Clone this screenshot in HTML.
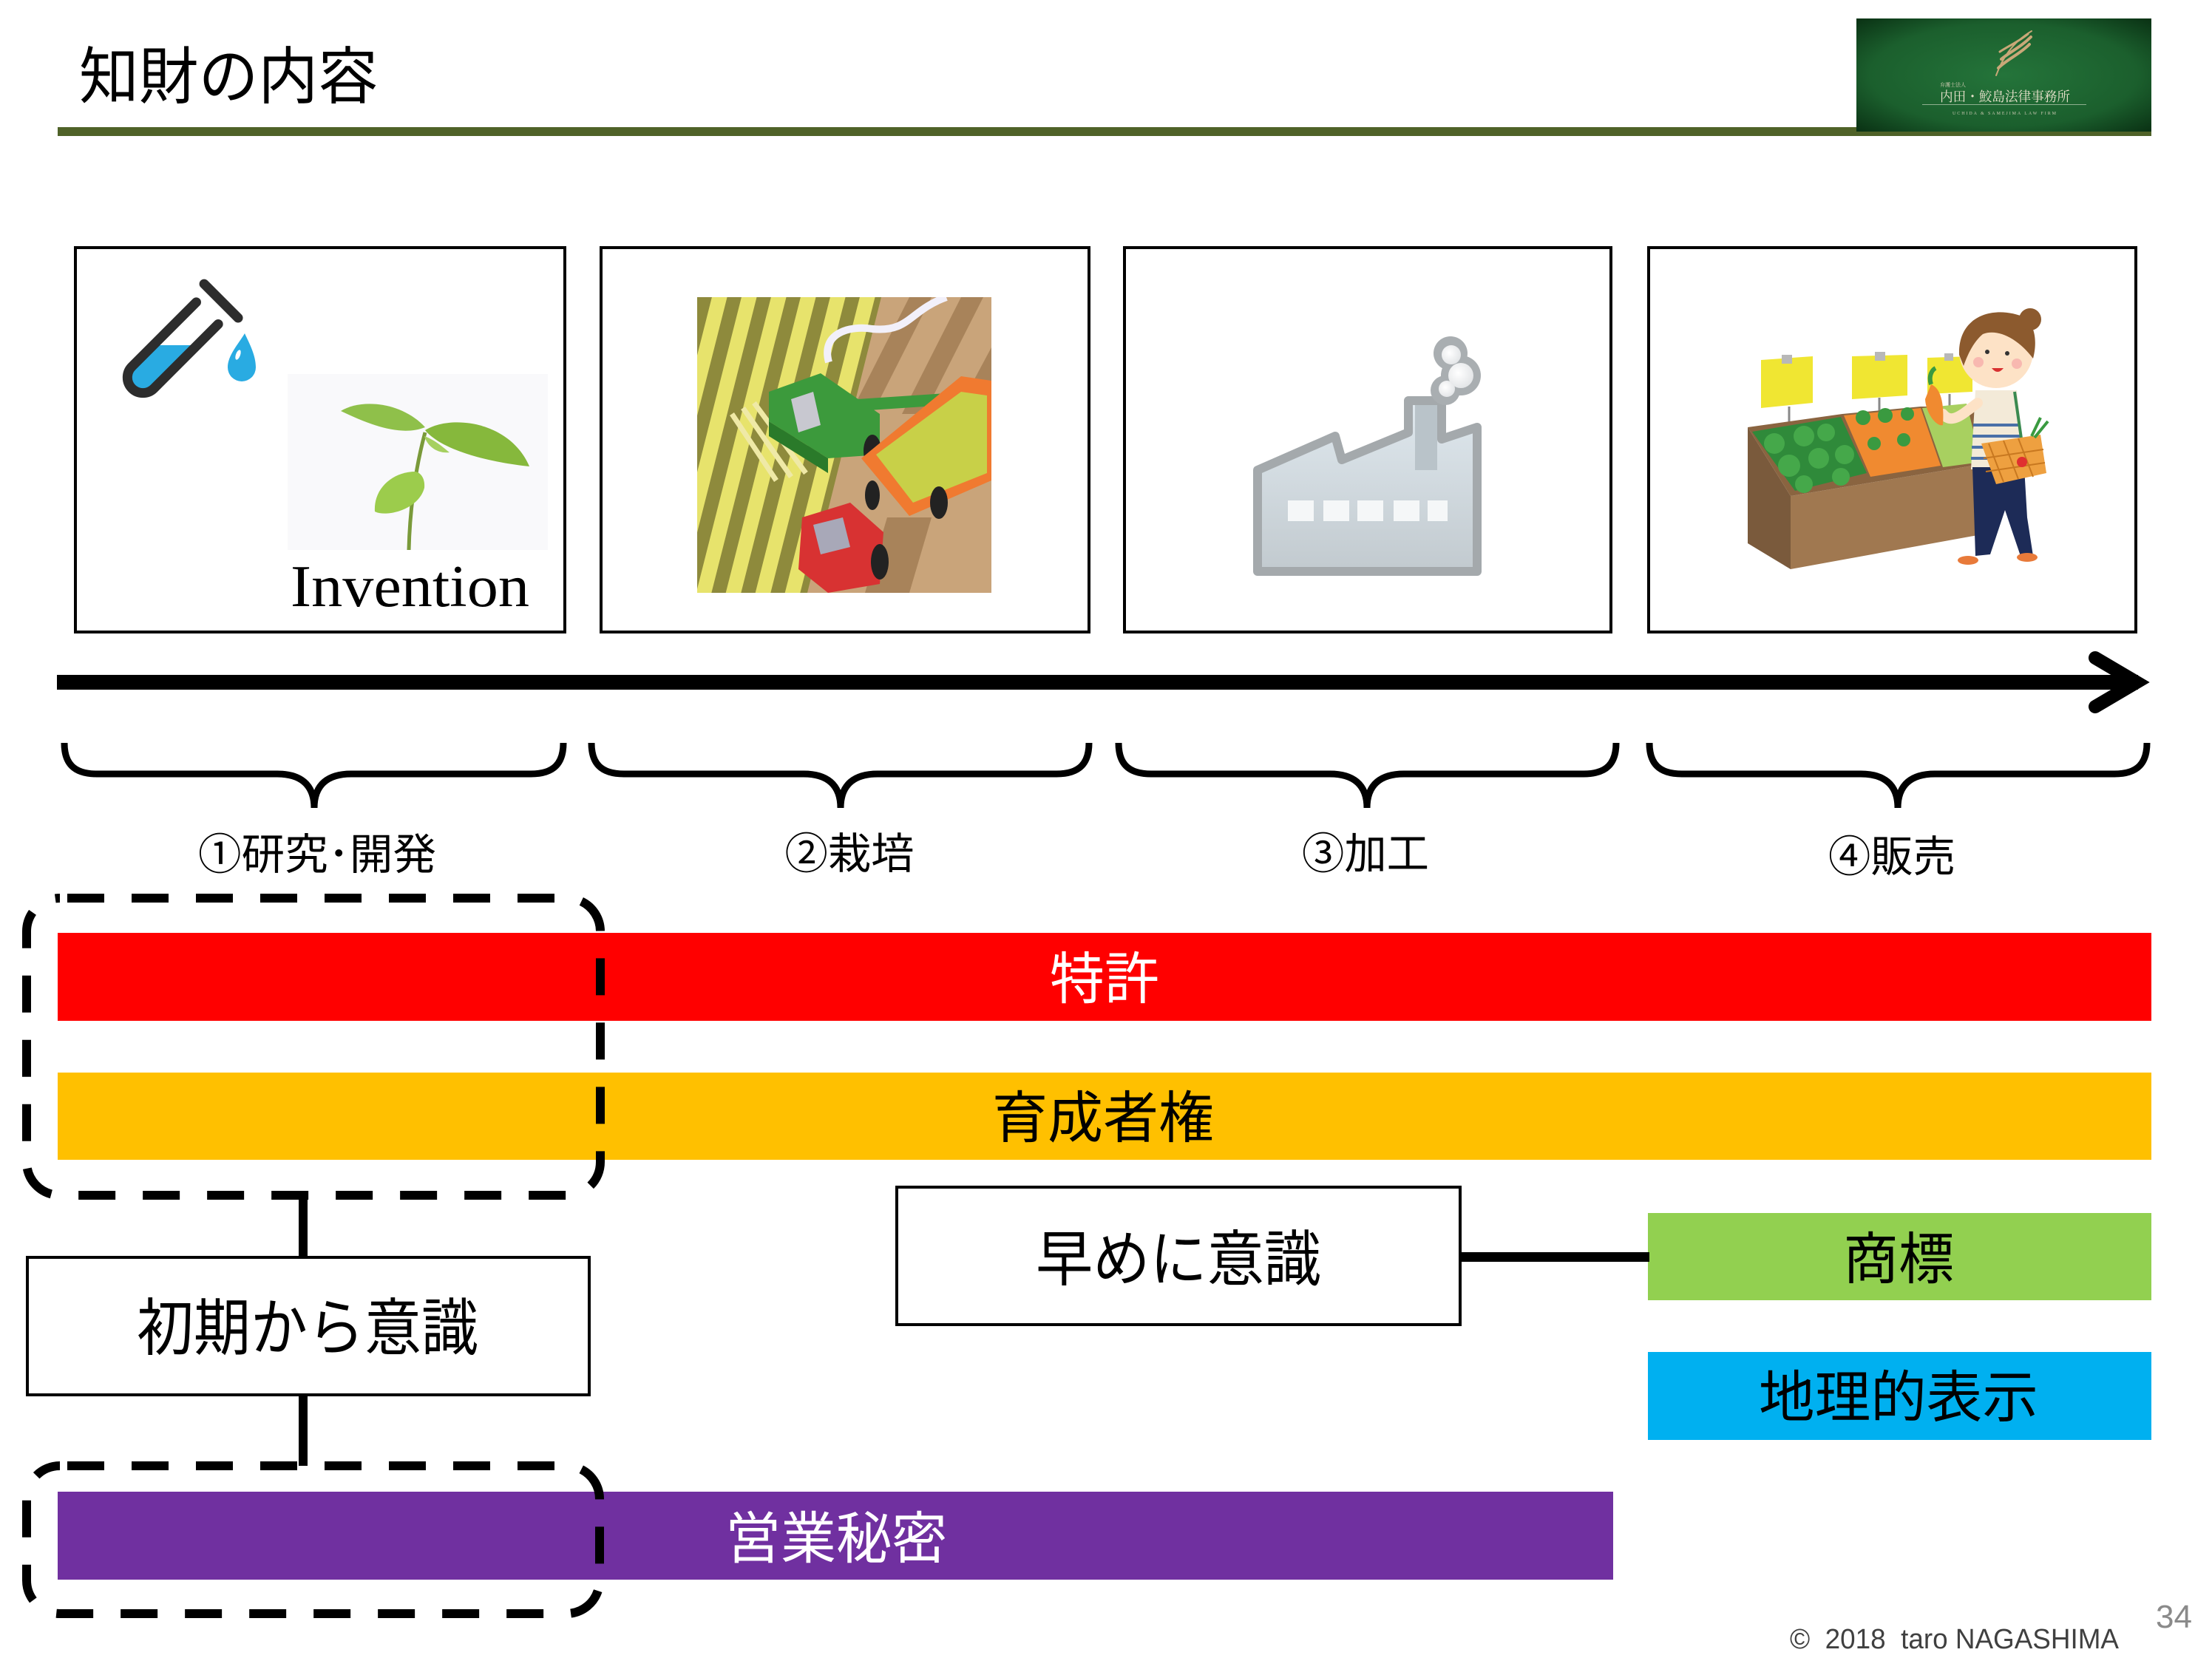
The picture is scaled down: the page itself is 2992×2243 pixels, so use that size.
<!DOCTYPE html>
<html><head><meta charset="utf-8">
<style>
html,body{margin:0;padding:0;background:#fff;}
svg{display:block;}
.j{font-family:"Liberation Sans","Noto Sans CJK JP",sans-serif;}
</style></head><body>
<svg width="2992" height="2243" viewBox="0 0 2992 2243" xmlns="http://www.w3.org/2000/svg">
<defs>
 <radialGradient id="lg" cx="50%" cy="50%" r="70%">
  <stop offset="0" stop-color="#24743a"/>
  <stop offset="0.65" stop-color="#1b5f2d"/>
  <stop offset="1" stop-color="#0a3214"/>
 </radialGradient>
 <linearGradient id="fg" x1="0" y1="0" x2="0" y2="1">
  <stop offset="0" stop-color="#dfe8ee"/>
  <stop offset="1" stop-color="#c2cacf"/>
 </linearGradient>
 <radialGradient id="sm" cx="40%" cy="40%" r="60%">
  <stop offset="0" stop-color="#ffffff"/>
  <stop offset="1" stop-color="#e4e6e8"/>
 </radialGradient>
 <clipPath id="farm"><rect x="943" y="402" width="398" height="400"/></clipPath>
 <clipPath id="crop"><polygon points="943,402 1192,402 1092,802 943,802"/></clipPath>
 <clipPath id="liq"><rect x="100" y="467" width="300" height="120"/></clipPath>
</defs>

<!-- header -->
<text class="j" x="107" y="133" font-size="84" textLength="404" lengthAdjust="spacingAndGlyphs" fill="#000">知財の内容</text>
<rect x="78" y="172" width="2832" height="12" fill="#4f6228"/>
<!-- logo -->
<rect x="2511" y="25" width="399" height="153" fill="url(#lg)"/>
<g fill="none" stroke="#c9a878" stroke-linecap="round">
 <path d="M2700,102 C2708,80 2721,58 2748,42" stroke-width="2"/>
 <path d="M2703,92 C2715,80 2731,74 2745,60" stroke-width="4"/>
 <path d="M2707,80 C2719,70 2733,64 2747,50" stroke-width="4"/>
 <path d="M2705,70 C2717,62 2731,56 2743,46" stroke-width="3"/>
</g>
<text x="2624" y="117" font-size="7" fill="#d8d0b8" font-family="Liberation Serif, Noto Serif CJK SC, serif">弁護士法人</text>
<text x="2624" y="137" font-size="18" textLength="176" lengthAdjust="spacingAndGlyphs" fill="#e8e2cc" font-family="Liberation Serif, Noto Serif CJK SC, serif">内田・鮫島法律事務所</text>
<rect x="2600" y="141" width="222" height="1" fill="#8fb08f"/>
<text x="2641" y="155" font-size="6" textLength="140" fill="#c8c8b0" font-family="Liberation Serif, serif">UCHIDA &amp; SAMEJIMA LAW FIRM</text>

<!-- image boxes -->
<g fill="#fff" stroke="#000" stroke-width="4">
 <rect x="102" y="335" width="662" height="520"/>
 <rect x="813" y="335" width="660" height="520"/>
 <rect x="1521" y="335" width="658" height="520"/>
 <rect x="2230" y="335" width="659" height="520"/>
</g>

<!-- box1: test tube, sprout, Invention -->
<g clip-path="url(#liq)">
 <g transform="translate(228,476) rotate(45)">
  <path d="M-21,-76 V49 A21,21 0 0 0 21,49 V-76 Z" fill="#29abe2"/>
 </g>
</g>
<g transform="translate(228,476) rotate(45)" fill="none" stroke="#2d2d2d" stroke-width="13" stroke-linecap="round">
 <path d="M-21,-74 V49 A21,21 0 0 0 21,49 V-74"/>
 <line x1="-31" y1="-99" x2="34" y2="-99"/>
</g>
<path d="M331,451 C338,466 346,481 346,497 A19,19 0 0 1 308,497 C308,481 322,466 331,451 Z" fill="#29abe2"/>
<ellipse cx="322" cy="480" rx="3" ry="7" transform="rotate(20 322 480)" fill="#fff"/>
<rect x="389" y="506" width="352" height="238" fill="#f9f9fb"/>
<path d="M553,744 C554,700 560,640 575,585" stroke="#7a9a3a" stroke-width="5" fill="none"/>
<path d="M575,578 C545,545 490,538 461,556 C495,572 540,592 575,578Z" fill="#8fc04a"/>
<path d="M575,582 C610,560 690,570 716,631 C670,626 600,612 575,582Z" fill="#86b83c"/>
<path d="M562,638 C532,638 505,660 507,692 C522,700 566,690 574,660 C575,648 570,640 562,638Z" fill="#9ccc4c"/>
<path d="M574,590 C590,596 600,606 608,612 C592,614 578,604 574,590Z" fill="#a6d060"/>
<text x="393" y="820" font-size="80" textLength="323" lengthAdjust="spacingAndGlyphs" font-family="Liberation Serif, serif" fill="#000">Invention</text>

<!-- box2: farm -->
<g clip-path="url(#farm)">
 <rect x="943" y="402" width="398" height="400" fill="#c9a47a"/>
 <g fill="#a8835a">
  <polygon points="1230,402 1260,402 1180,560 1150,560"/>
  <polygon points="1300,402 1330,402 1250,560 1220,560"/>
  <polygon points="1341,470 1341,520 1280,640 1250,640"/>
  <polygon points="1200,700 1260,700 1230,802 1170,802"/>
 </g>
 <g clip-path="url(#crop)">
  <rect x="943" y="402" width="260" height="400" fill="#8e8a3c"/>
  <g stroke="#e7e36c" stroke-width="20" stroke-linecap="round">
   <line x1="975" y1="395" x2="870" y2="810"/>
   <line x1="1015" y1="395" x2="910" y2="810"/>
   <line x1="1055" y1="395" x2="950" y2="810"/>
   <line x1="1095" y1="395" x2="990" y2="810"/>
   <line x1="1135" y1="395" x2="1030" y2="810"/>
   <line x1="1175" y1="395" x2="1070" y2="810"/>
   <line x1="1215" y1="395" x2="1110" y2="810"/>
  </g>
 </g>
 <path d="M1121,490 C1110,450 1150,440 1180,445 C1230,450 1230,420 1280,402" stroke="#f2f0fa" stroke-width="10" fill="none"/>
 <g stroke="#efe9a6" stroke-width="7">
  <line x1="990" y1="560" x2="1050" y2="650"/>
  <line x1="1005" y1="552" x2="1070" y2="645"/>
  <line x1="1020" y1="545" x2="1090" y2="640"/>
 </g>
 <polygon points="1040,530 1110,505 1190,560 1190,615 1120,620 1040,570" fill="#3c9a3c"/>
 <polygon points="1040,570 1120,620 1120,640 1040,590" fill="#2a7a2a"/>
 <polygon points="1070,540 1100,530 1110,575 1080,585" fill="#c8c8d0"/>
 <line x1="1160" y1="548" x2="1280" y2="540" stroke="#3c9a3c" stroke-width="16"/>
 <ellipse cx="1180" cy="610" rx="12" ry="22" fill="#222"/>
 <polygon points="1165,620 1300,509 1341,515 1341,650 1230,698" fill="#f07a30"/>
 <polygon points="1185,615 1300,530 1335,535 1335,640 1235,680" fill="#c8d048"/>
 <ellipse cx="1270" cy="680" rx="12" ry="22" fill="#222"/>
 <ellipse cx="1180" cy="670" rx="10" ry="20" fill="#222"/>
 <polygon points="1085,700 1150,680 1195,720 1190,790 1120,802 1080,770" fill="#d83232"/>
 <polygon points="1100,710 1140,700 1150,740 1110,750" fill="#a8a8b8"/>
 <ellipse cx="1190" cy="760" rx="12" ry="24" fill="#222"/>
</g>

<!-- box3: factory -->
<polygon points="1701,773 1701,636 1806,590 1815,622 1905,585 1905,542 1950,542 1950,594 1998,578 1998,773" fill="url(#fg)" stroke="#a4a9ac" stroke-width="12" stroke-linejoin="round"/>
<rect x="1914" y="548" width="30" height="88" fill="#b9c3c9"/>
<g fill="#a9aeb1">
 <circle cx="1962" cy="478" r="23"/>
 <circle cx="1976" cy="508" r="27"/>
 <circle cx="1955" cy="528" r="20"/>
</g>
<g fill="url(#sm)">
 <circle cx="1963" cy="480" r="13"/>
 <circle cx="1976" cy="508" r="17"/>
 <circle cx="1957" cy="526" r="11"/>
</g>
<g fill="#f5f7f8">
 <rect x="1742" y="677" width="35" height="28"/>
 <rect x="1790" y="677" width="35" height="28"/>
 <rect x="1836" y="677" width="35" height="28"/>
 <rect x="1885" y="677" width="35" height="28"/>
 <rect x="1931" y="677" width="27" height="28"/>
</g>

<!-- box4: market -->
<g stroke="#888" stroke-width="3">
 <line x1="2420" y1="550" x2="2420" y2="590"/>
 <line x1="2542" y1="538" x2="2542" y2="566"/>
 <line x1="2637" y1="533" x2="2637" y2="556"/>
</g>
<polygon points="2382,487 2452,482 2452,545 2382,552" fill="#f0e632"/>
<polygon points="2505,482 2580,480 2580,535 2505,540" fill="#f0e632"/>
<polygon points="2607,484 2668,482 2668,530 2607,533" fill="#f0e632"/>
<rect x="2410" y="480" width="14" height="12" fill="#b8b8b8"/>
<rect x="2536" y="476" width="14" height="12" fill="#b8b8b8"/>
<rect x="2630" y="478" width="12" height="10" fill="#b8b8b8"/>
<polygon points="2364,578 2422,671 2422,770 2364,735" fill="#7a5a3c"/>
<polygon points="2422,671 2686,627 2686,722 2422,770" fill="#a07850"/>
<polygon points="2364,578 2492,560 2598,550 2677,550 2686,627 2422,671" fill="#8a6440"/>
<polygon points="2370,584 2490,564 2525,640 2428,664" fill="#2f8a3a"/>
<g fill="#45a84a"><circle cx="2400" cy="600" r="14"/><circle cx="2440" cy="590" r="14"/><circle cx="2470" cy="585" r="12"/><circle cx="2420" cy="630" r="15"/><circle cx="2460" cy="620" r="14"/><circle cx="2495" cy="615" r="13"/><circle cx="2440" cy="655" r="12"/><circle cx="2490" cy="645" r="12"/></g>
<polygon points="2494,562 2598,552 2625,630 2530,645" fill="#f08a30"/>
<g fill="#3a9a40"><circle cx="2520" cy="565" r="10"/><circle cx="2550" cy="562" r="10"/><circle cx="2580" cy="560" r="9"/><circle cx="2535" cy="600" r="9"/><circle cx="2575" cy="595" r="9"/></g>
<polygon points="2600,552 2660,546 2680,625 2628,632" fill="#a8d060"/>
<path d="M2672,528 L2728,528 L2740,635 L2666,635 Z" fill="#f3ead8"/>
<g stroke="#4a70a8" stroke-width="4"><line x1="2669" y1="575" x2="2733" y2="575"/><line x1="2668" y1="590" x2="2735" y2="590"/><line x1="2667" y1="605" x2="2737" y2="605"/><line x1="2666" y1="620" x2="2738" y2="620"/></g>
<path d="M2675,545 C2655,560 2640,575 2628,560" stroke="#fde2c6" stroke-width="14" fill="none" stroke-linecap="round"/>
<path d="M2612,520 C2625,525 2630,545 2628,575 C2620,578 2605,560 2604,540Z" fill="#f08a30"/>
<path d="M2612,520 C2608,508 2614,500 2618,498" stroke="#3a9a40" stroke-width="6" fill="none"/>
<path d="M2668,632 L2738,632 L2742,700 L2750,752 L2734,755 L2712,690 L2692,750 L2672,752 L2670,690 Z" fill="#1d2b57"/>
<ellipse cx="2662" cy="758" rx="14" ry="6" fill="#e87a3a"/>
<ellipse cx="2742" cy="754" rx="14" ry="6" fill="#e87a3a"/>
<line x1="2725" y1="530" x2="2735" y2="600" stroke="#3a8a50" stroke-width="4"/>
<polygon points="2680,600 2760,588 2768,640 2700,655" fill="#eea040"/>
<g stroke="#c87820" stroke-width="2"><line x1="2690" y1="600" x2="2710" y2="652"/><line x1="2710" y1="596" x2="2730" y2="648"/><line x1="2730" y1="593" x2="2750" y2="645"/><line x1="2683" y1="620" x2="2764" y2="608"/><line x1="2686" y1="638" x2="2766" y2="626"/></g>
<circle cx="2735" cy="625" r="7" fill="#e03030"/>
<path d="M2748,590 L2760,565 M2752,592 L2770,570" stroke="#3a9a40" stroke-width="4"/>
<ellipse cx="2700" cy="475" rx="50" ry="50" fill="#fde2c6"/>
<path d="M2650,480 C2648,425 2700,412 2740,430 C2756,445 2754,470 2750,485 C2730,458 2702,444 2682,452 C2670,462 2662,478 2656,495Z" fill="#8c5a2e"/>
<circle cx="2746" cy="432" r="15" fill="#8c5a2e"/>
<circle cx="2688" cy="476" r="3" fill="#333"/>
<circle cx="2715" cy="478" r="3" fill="#333"/>
<path d="M2694,498 Q2702,508 2710,498Z" fill="#d83030"/>
<circle cx="2676" cy="490" r="7" fill="#f8b8b0"/>
<circle cx="2728" cy="492" r="7" fill="#f8b8b0"/>

<!-- timeline arrow -->
<rect x="77" y="913" width="2815" height="20" fill="#000"/>
<path d="M2834,890 L2890,923 L2834,956" fill="none" stroke="#000" stroke-width="18" stroke-linejoin="miter" stroke-linecap="round"/>

<!-- braces -->
<g fill="none" stroke="#000" stroke-width="9">
 <path d="M87,1005 C87,1032 99,1047 131,1047 L375,1047 C405,1047 425,1060 425,1093 C425,1060 445,1047 475,1047 L718,1047 C750,1047 762,1032 762,1005"/>
 <path d="M800,1005 C800,1032 812,1047 844,1047 L1087,1047 C1117,1047 1137,1060 1137,1093 C1137,1060 1157,1047 1187,1047 L1429,1047 C1461,1047 1473,1032 1473,1005"/>
 <path d="M1513,1005 C1513,1032 1525,1047 1557,1047 L1799,1047 C1829,1047 1849,1060 1849,1093 C1849,1060 1869,1047 1899,1047 L2142,1047 C2174,1047 2186,1032 2186,1005"/>
 <path d="M2231,1005 C2231,1032 2243,1047 2275,1047 L2517,1047 C2547,1047 2567,1060 2567,1093 C2567,1060 2587,1047 2617,1047 L2860,1047 C2892,1047 2904,1032 2904,1005"/>
</g>

<!-- stage labels -->
<g class="j" font-size="58" fill="#000" text-anchor="middle">
 <text x="429" y="1176" textLength="322" lengthAdjust="spacingAndGlyphs">①研究･開発</text>
 <text x="1149" y="1175" textLength="175" lengthAdjust="spacingAndGlyphs">②栽培</text>
 <text x="1847" y="1175" textLength="172" lengthAdjust="spacingAndGlyphs">③加工</text>
 <text x="2559" y="1179" textLength="172" lengthAdjust="spacingAndGlyphs">④販売</text>
</g>

<!-- bars -->
<rect x="78" y="1262" width="2832" height="119" fill="#ff0000"/>
<rect x="78" y="1451" width="2832" height="118" fill="#ffc000"/>
<rect x="2229" y="1641" width="681" height="118" fill="#92d050"/>
<rect x="2229" y="1829" width="681" height="119" fill="#00b0f0"/>
<rect x="78" y="2018" width="2104" height="119" fill="#7030a0"/>

<g class="j" font-size="76" text-anchor="middle">
 <text x="1494" y="1351" fill="#fff" textLength="148" lengthAdjust="spacingAndGlyphs">特許</text>
 <text x="1492" y="1539" fill="#000" textLength="300" lengthAdjust="spacingAndGlyphs">育成者権</text>
 <text x="2568" y="1730" fill="#000" textLength="150" lengthAdjust="spacingAndGlyphs">商標</text>
 <text x="2568" y="1917" fill="#000" textLength="378" lengthAdjust="spacingAndGlyphs">地理的表示</text>
 <text x="1131" y="2108" fill="#fff" textLength="300" lengthAdjust="spacingAndGlyphs">営業秘密</text>
</g>

<!-- connectors -->
<rect x="404" y="1617" width="12" height="84" fill="#000"/>
<rect x="404" y="1887" width="12" height="96" fill="#000"/>
<rect x="1975" y="1694" width="256" height="13" fill="#000"/>

<!-- boxes -->
<rect x="37" y="1701" width="760" height="186" fill="#fff" stroke="#000" stroke-width="4"/>
<rect x="1213" y="1606" width="762" height="186" fill="#fff" stroke="#000" stroke-width="4"/>
<text class="j" x="416" y="1826" font-size="84" text-anchor="middle" textLength="462" lengthAdjust="spacingAndGlyphs" fill="#000">初期から意識</text>
<text class="j" x="1594" y="1732" font-size="82" text-anchor="middle" textLength="386" lengthAdjust="spacingAndGlyphs" fill="#000">早めに意識</text>

<!-- dashed rounded rects -->
<g fill="none" stroke="#000" stroke-width="12" stroke-dasharray="50 37">
 <rect x="36" y="1215" width="776" height="402" rx="45" ry="45" stroke-dashoffset="-10"/>
 <rect x="36" y="1983" width="775" height="200" rx="45" ry="45" stroke-dashoffset="-10"/>
</g>

<!-- footer -->
<text x="2421" y="2230" font-size="38" textLength="445" lengthAdjust="spacingAndGlyphs" fill="#404040" font-family="Liberation Sans, sans-serif" style="white-space:pre">©  2018  taro NAGASHIMA</text>
<text x="2916" y="2202" font-size="44" textLength="49" lengthAdjust="spacingAndGlyphs" fill="#8a8a8a" font-family="Liberation Sans, sans-serif">34</text>
</svg>
</body></html>
